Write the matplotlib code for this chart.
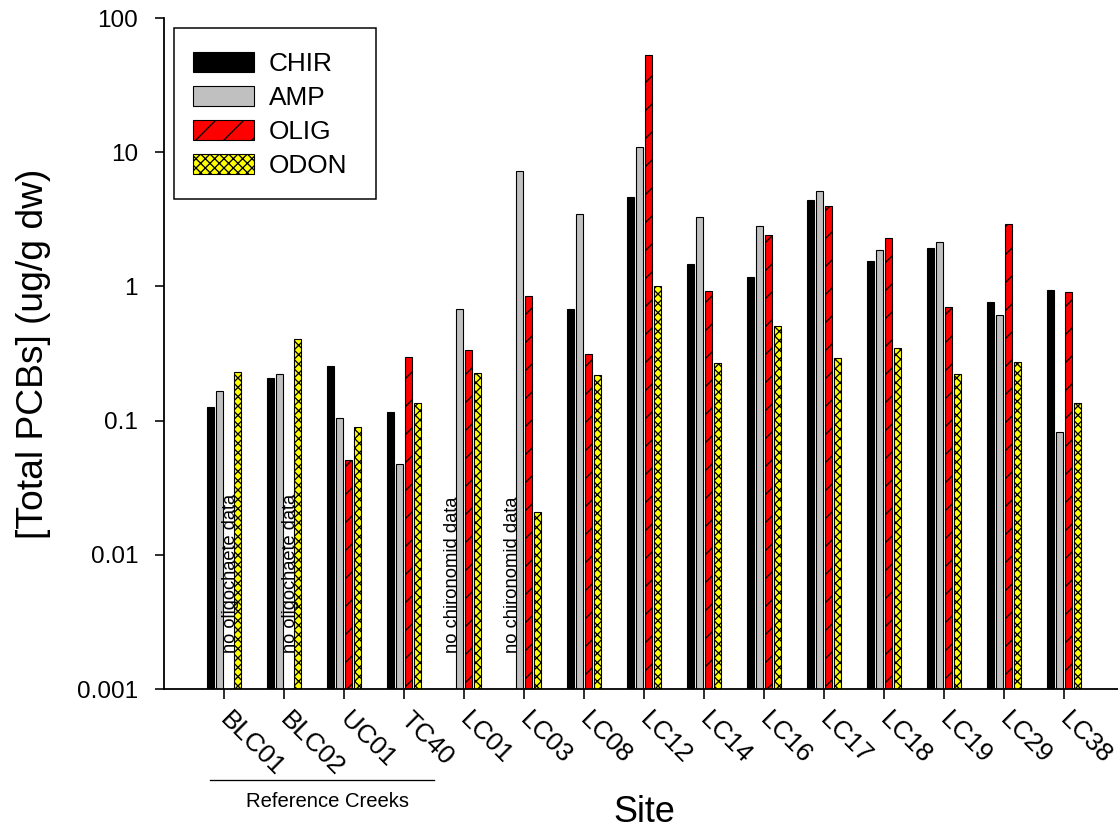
import numpy as np
import matplotlib
matplotlib.use("Agg")
import matplotlib.pyplot as plt
import matplotlib.transforms as mtransforms
from matplotlib.patches import Rectangle

# Site names along the x axis
sites = ["BLC01", "BLC02", "UC01", "TC40", "LC01", "LC03", "LC08", "LC12",
         "LC14", "LC16", "LC17", "LC18", "LC19", "LC29", "LC38"]

# Total PCB concentrations (ug/g dw) by taxon; nan = no data
chir = [0.126, 0.209, 0.255, 0.116, np.nan, np.nan, 0.677, 4.62,
        1.46, 1.18, 4.39, 1.54, 1.92, 0.761, 0.946]
amp = [0.166, 0.222, 0.104, 0.0477, 0.674, 7.23, 3.44, 10.9,
       3.30, 2.80, 5.16, 1.88, 2.15, 0.613, 0.082]
olig = [np.nan, np.nan, 0.0508, 0.299, 0.338, 0.847, 0.311, 52.8,
        0.93, 2.43, 3.98, 2.29, 0.70, 2.90, 0.912]
odon = [0.231, 0.405, 0.0895, 0.136, 0.227, 0.0208, 0.220, 1.0,
        0.27, 0.508, 0.295, 0.348, 0.222, 0.275, 0.135]

series_names = ["CHIR", "AMP", "OLIG", "ODON"]
ytick_vals = [0.001, 0.01, 0.1, 1, 10, 100]
ytick_labels = ["0.001", "0.01", "0.1", "1", "10", "100"]

DPI = 168
W, H = 1118, 831


def pt(px):
    """Convert pixels to points at the figure dpi."""
    return px * 72.0 / DPI


plt.rcParams["font.family"] = ["Liberation Sans", "DejaVu Sans"]
plt.rcParams["hatch.linewidth"] = pt(1.3)

fig = plt.figure(figsize=(W / DPI, H / DPI), dpi=DPI)
ax = fig.add_axes([164 / W, 142 / H, 960 / W, 671 / H])

x = np.arange(len(sites))
width = 0.105
offsets = [-0.225, -0.075, 0.075, 0.225]
styles = [
    dict(color="black", hatch=None),
    dict(color="#c0c0c0", hatch=None),
    dict(color="#ff0000", hatch="//"),
    dict(color="#ffff00", hatch="xxxxxx"),
]
bottom = 1e-3
handles = []
for vals, off, st, name in zip([chir, amp, olig, odon], offsets, styles, series_names):
    v = np.asarray(vals, dtype=float)
    bars = ax.bar(x + off, v - bottom, width=width, bottom=bottom,
                  color=st["color"], edgecolor="black", linewidth=pt(1.1),
                  hatch=st["hatch"], label=name, zorder=2)
    handles.append(bars)

ax.set_yscale("log")
ax.set_ylim(1e-3, 100)
ax.set_xlim(-1, 15)
ax.set_yticks(ytick_vals)
ax.set_yticklabels(ytick_labels)
ax.minorticks_off()
ax.set_xticks(x)
ax.set_xticklabels(sites, rotation=-45, rotation_mode="anchor",
                   ha="left", va="center")

for side in ("top", "right"):
    ax.spines[side].set_visible(False)
for side in ("left", "bottom"):
    ax.spines[side].set_linewidth(pt(1.8))

ax.tick_params(axis="y", length=pt(9), width=pt(1.6), pad=pt(17),
               labelsize=pt(24.3), direction="out")
ax.tick_params(axis="x", length=pt(10), width=pt(1.6), pad=pt(17),
               labelsize=pt(26), direction="out")

# Axis titles
ax.set_ylabel("[Total PCBs] (ug/g dw)", fontsize=pt(37.2))
ax.yaxis.set_label_coords(-0.1177, 0.5)
ax.set_xlabel("Site", fontsize=pt(36), va="baseline")
ax.xaxis.set_label_coords(0.5005, -0.1978)

# Notes for missing taxa
note_y = 0.00186
for i in (0, 1):
    ax.text(x[i] + offsets[2] + 0.035, note_y, "no oligochaete data",
            rotation=90, rotation_mode="anchor", ha="left", va="center",
            fontsize=pt(18.3), zorder=3)
for i in (4, 5):
    ax.text(x[i] + offsets[0] + 0.035, note_y, "no chironomid data",
            rotation=90, rotation_mode="anchor", ha="left", va="center",
            fontsize=pt(18.4), zorder=3)

# Bracket marking the reference creeks
trans = mtransforms.blended_transform_factory(ax.transData, ax.transAxes)
ax.plot([-0.233, 3.5], [-0.1356, -0.1356], color="black", lw=pt(1.3),
        transform=trans, clip_on=False)
ax.text(1.725, -0.1754, "Reference Creeks", transform=trans,
        ha="center", va="baseline", fontsize=pt(20.3))

# Legend: entries anchored at the first key, framed by a plain box
fs_leg = 26.3
key_x = (193 - 164) / 960
key_y = (689 - 52) / 671
leg = ax.legend(handles=handles, loc="upper left",
                bbox_to_anchor=(key_x, key_y), borderaxespad=0,
                borderpad=0, fontsize=pt(fs_leg), frameon=False,
                handlelength=61 / fs_leg, handleheight=20 / fs_leg,
                handletextpad=15 / fs_leg, labelspacing=10 / fs_leg)
box = Rectangle(((174 - 164) / 960, (689 - 199) / 671), 202 / 960, 171 / 671,
                transform=ax.transAxes, facecolor="white", edgecolor="black",
                linewidth=pt(1.5), zorder=4)
ax.add_patch(box)
leg.set_zorder(5)

fig.savefig("out.png", dpi=DPI)
